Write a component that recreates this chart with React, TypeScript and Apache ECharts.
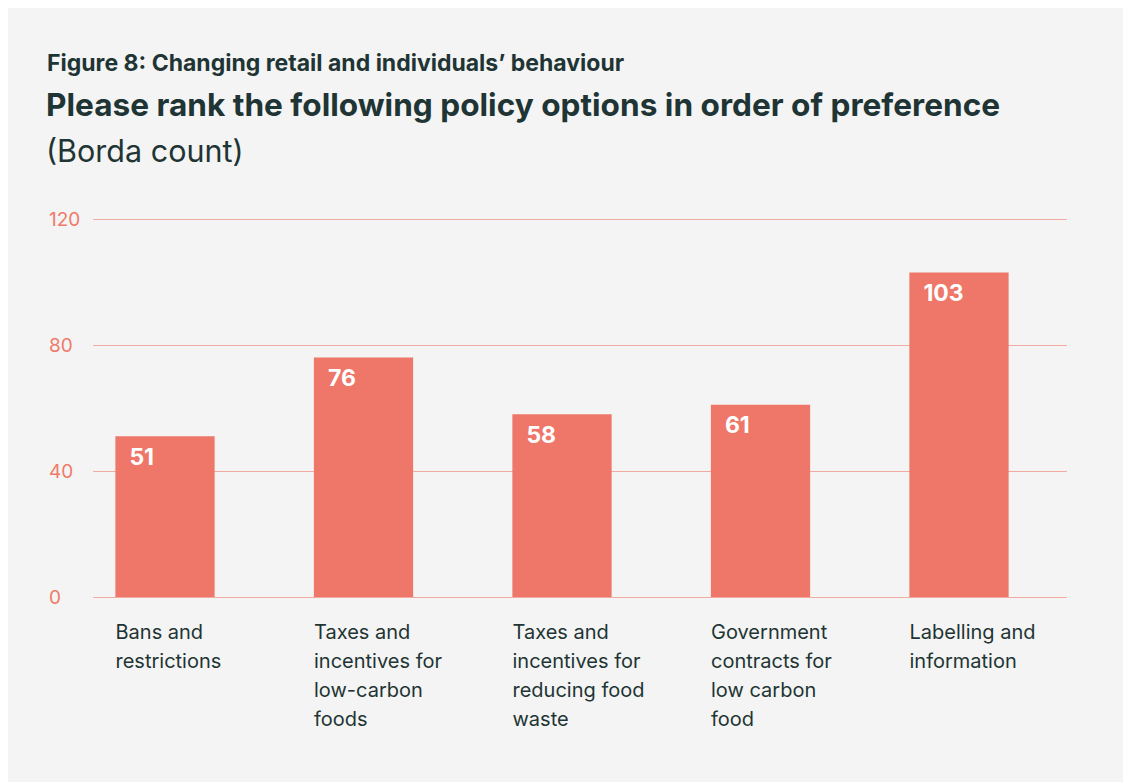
import React, { useEffect, useRef } from "react";
import * as echarts from "echarts";

const categories = [
  "Bans and\nrestrictions",
  "Taxes and\nincentives for\nlow-carbon\nfoods",
  "Taxes and\nincentives for\nreducing food\nwaste",
  "Government\ncontracts for\nlow carbon\nfood",
  "Labelling and\ninformation",
];
const values = [51, 76, 58, 61, 103];
const yMin = 0;
const yMax = 120;
const yInterval = 40;

const figureLabel = "Figure 8: Changing retail and individuals’ behaviour";
const titleText = "Please rank the following policy options in order of preference";
const subtitleText = "(Borda count)";

const DARK = "#1f3434";
const BAR = "#ee7769";
const GRID = "#f2aba2";
const YLAB = "#f07a6a";
const BG = "#f3f4f3";
const FONT = "Inter, 'Noto Sans', sans-serif";

export default function App() {
  const ref = useRef<HTMLDivElement>(null);
  useEffect(() => {
    if (!ref.current) return;
    const chart = echarts.init(ref.current, undefined, { renderer: "svg" });
    const option: any = {
      animation: false,
      backgroundColor: BG,
      textStyle: { fontFamily: FONT },
      title: [
        {
          text: figureLabel,
          left: 34,
          top: 38,
          textStyle: { fontFamily: FONT, fontSize: 23, fontWeight: "bold", color: DARK },
        },
        {
          text: titleText,
          left: 33,
          top: 75,
          textStyle: { fontFamily: FONT, fontSize: 31.6, fontWeight: "bold", color: DARK },
        },
        {
          text: subtitleText,
          left: 33,
          top: 122,
          textStyle: { fontFamily: FONT, fontSize: 30.5, fontWeight: "normal", color: DARK },
        },
      ],
      grid: [
        { left: 85, right: 56, top: 211, bottom: 185 },
        { left: 57.75, right: 64.75, top: 211, bottom: 185 },
        { left: 8.25, right: 114.25, top: 211, bottom: 185 },
      ],
      xAxis: [
        { gridIndex: 0, type: "category", data: categories, show: false },
        {
          gridIndex: 1,
          type: "category",
          data: categories,
          axisLine: { show: false },
          axisTick: { show: false },
          axisLabel: { show: false },
        },
        {
          gridIndex: 2,
          type: "category",
          data: categories,
          axisLine: { show: false },
          axisTick: { show: false },
          axisLabel: {
            show: true,
            interval: 0,
            align: "left",
            verticalAlign: "top",
            margin: 20,
            fontFamily: FONT,
            fontSize: 20,
            lineHeight: 29,
            color: DARK,
          },
        },
      ],
      yAxis: [
        {
          gridIndex: 0,
          type: "value",
          min: yMin,
          max: yMax,
          interval: yInterval,
          axisLine: { show: false },
          axisTick: { show: false },
          axisLabel: {
            align: "left",
            margin: 44,
            fontFamily: FONT,
            fontSize: 19,
            color: YLAB,
          },
          splitLine: {
            show: true,
            lineStyle: { color: GRID, width: 1, type: "solid", opacity: 1 },
          },
        },
        {
          gridIndex: 1,
          type: "value",
          min: yMin,
          max: yMax,
          interval: yInterval,
          show: false,
          splitLine: { show: false },
        },
        {
          gridIndex: 2,
          type: "value",
          min: yMin,
          max: yMax,
          interval: yInterval,
          show: false,
          splitLine: { show: false },
        },
      ],
      series: [
        {
          type: "bar",
          xAxisIndex: 1,
          yAxisIndex: 1,
          data: values,
          barWidth: "50%",
          itemStyle: { color: BAR },
          label: {
            show: true,
            position: [14, 9],
            color: "#ffffff",
            fontFamily: FONT,
            fontSize: 23,
            fontWeight: "bold",
          },
          z: 3,
        },
      ],
    };
    chart.setOption(option);
    return () => chart.dispose();
  }, []);
  return (
    <div
      ref={ref}
      style={{ position: "fixed", left: 8, top: 8, width: 1115, height: 774 }}
    />
  );
}
